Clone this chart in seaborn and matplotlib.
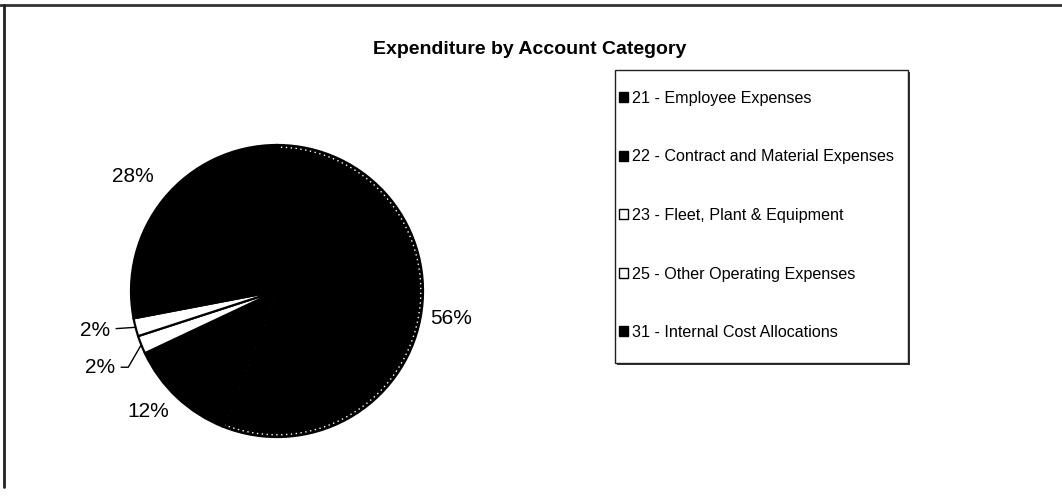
import numpy as np
import matplotlib
matplotlib.use("Agg")
import matplotlib.pyplot as plt
from matplotlib.lines import Line2D
from matplotlib.patches import Rectangle, Wedge
import seaborn as sns

# Expenditure shares by account category (percent)
categories = [
    "21 - Employee Expenses",
    "22 - Contract and Material Expenses",
    "23 - Fleet, Plant & Equipment",
    "25 - Other Operating Expenses",
    "31 - Internal Cost Allocations",
]
shares = [56, 12, 2, 2, 28]
slice_colors = ["#000000", "#000000", "#ffffff", "#ffffff", "#000000"]
title = "Expenditure by Account Category"

sns.set_theme(style="white")
plt.rcParams["font.family"] = ["Liberation Sans", "DejaVu Sans"]

W, H = 1062, 497
fig = plt.figure(figsize=(W / 100, H / 100), dpi=100)
fig.patch.set_facecolor("white")

# pie axes: centre (277, 291) px, radius 146 px
cx, cy, r = 277, 291, 146
ax = fig.add_axes([(cx - r) / W, (H - cy - r) / H, 2 * r / W, 2 * r / H])
wedges, _ = ax.pie(
    shares,
    colors=slice_colors,
    startangle=90,
    counterclock=False,
    wedgeprops=dict(edgecolor="black", linewidth=1.6),
)
# employee slice carries a patterned fill: dark with a light dotted inner outline
w0 = wedges[0]
w0.set_zorder(0.5)
ax.add_patch(Wedge(w0.center, w0.r * 0.985, w0.theta1, w0.theta2,
                   facecolor="none", edgecolor="white", linewidth=1.0,
                   linestyle=(0, (1, 2.5)), zorder=0.6))
ax.set_xlim(-1, 1)
ax.set_ylim(-1, 1)
ax.set_aspect("auto")
ax.axis("off")

# percentage labels placed outside each slice: (radius, angle shift in degrees)
label_layout = [(1.21, 1.8), (1.21, -3.8), (1.32, 1.7), (1.275, -2.3), (1.26, 1.0)]
# leader-line style for the thin slices
leader_style = {2: "angle,angleA=0,angleB=60,rad=0", 3: "arc3"}
total = float(sum(shares))
start = 90.0
for i, v in enumerate(shares):
    sweep = 360.0 * v / total
    mid_deg = start - sweep / 2
    start -= sweep
    rad, shift = label_layout[i]
    lab = np.deg2rad(mid_deg + shift)
    mid = np.deg2rad(mid_deg)
    txt = f"{round(100 * v / total):d}%"
    tx, ty = rad * np.cos(lab), rad * np.sin(lab)
    ex, ey = np.cos(mid), np.sin(mid)
    if i in leader_style:
        ax.annotate(
            txt, xy=(ex, ey), xytext=(tx, ty),
            ha="center", va="center", fontsize=15, color="black",
            arrowprops=dict(arrowstyle="-", color="black", lw=1.0,
                            shrinkA=2, shrinkB=0,
                            connectionstyle=leader_style[i]),
            annotation_clip=False,
        )
    else:
        ax.text(tx, ty, txt, ha="center", va="center", fontsize=15,
                color="black", clip_on=False)

# title
fig.text(530 / W, 1 - 49 / H, title, ha="center", va="center",
         fontsize=14, fontweight="bold", color="black")

# legend box with a slight drop shadow
lx0, ly0, lx1, ly1 = 615, 70, 908, 363
shadow = Rectangle((lx0 / W + 1.5 / W, 1 - ly1 / H - 1.5 / H),
                   (lx1 - lx0) / W, (ly1 - ly0) / H,
                   transform=fig.transFigure, facecolor="#333333",
                   edgecolor="none", zorder=1)
box = Rectangle((lx0 / W, 1 - ly1 / H), (lx1 - lx0) / W, (ly1 - ly0) / H,
                transform=fig.transFigure, facecolor="white",
                edgecolor="#222222", linewidth=1.0, zorder=2)
fig.patches.extend([shadow, box])

handles = [Rectangle((0, 0), 1, 1, facecolor=c, edgecolor="black", linewidth=1.0)
           for c in slice_colors]
leg = fig.legend(
    handles, categories,
    loc="upper left",
    bbox_to_anchor=(619 / W, 1 - 91 / H),
    frameon=False,
    fontsize=11.6,
    handlelength=0.58, handleheight=0.58,
    handletextpad=0.2,
    labelspacing=2.7,
    borderpad=0, borderaxespad=0,
)
leg.set_zorder(3)
for t in leg.get_texts():
    t.set_color("black")

# outer chart border (top and left edges)
fig.lines.extend([
    Line2D([0, 1], [1 - 5 / H, 1 - 5 / H], transform=fig.transFigure,
           color="#333333", linewidth=2.0),
    Line2D([4 / W, 4 / W], [1 - 5 / H, 1 - 487 / H], transform=fig.transFigure,
           color="#222222", linewidth=2.0),
])

fig.savefig("out.png", dpi=100, facecolor="white")
